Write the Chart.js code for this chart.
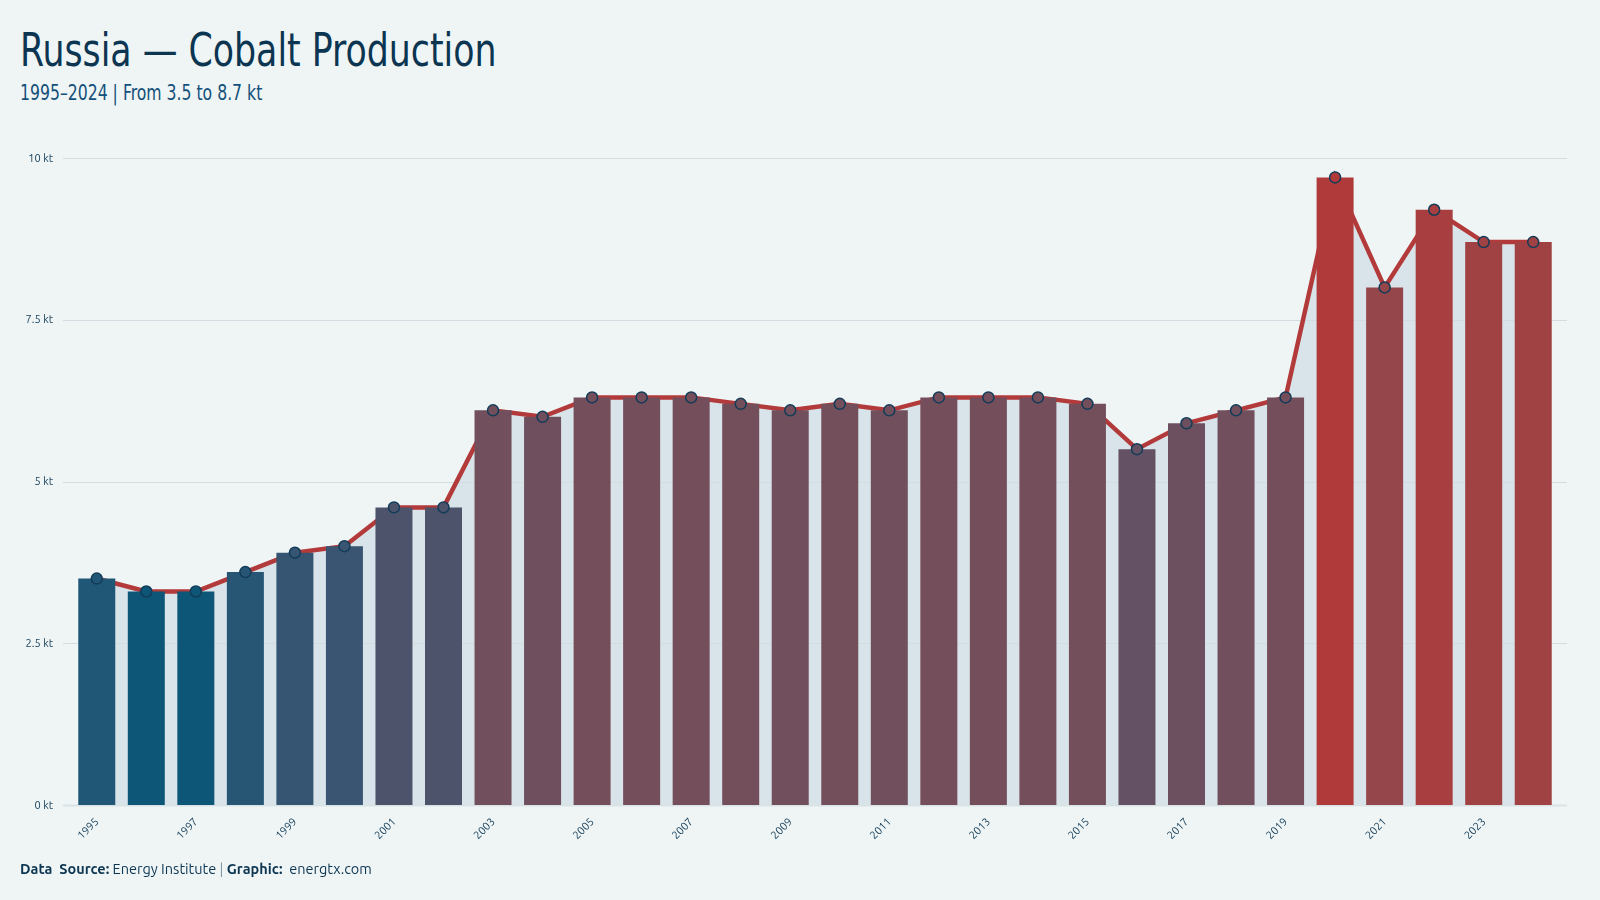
<!DOCTYPE html>
<html>
<head>
<meta charset="utf-8">
<script src="https://cdn.jsdelivr.net/npm/chart.js@4.4.0/dist/chart.umd.min.js"></script>
<style>
  html, body { margin:0; padding:0; background:#eff5f5; }
  body { width:1600px; height:900px; position:relative; overflow:hidden; font-family:'Ubuntu','Noto Sans',sans-serif; }
  #title { position:absolute; left:20px; top:27px; margin:0; font-family:'Ubuntu Condensed','DejaVu Sans Condensed',sans-serif; font-stretch:condensed; font-weight:400; font-size:46px; line-height:1; color:#0c3552; white-space:nowrap; transform:scaleX(0.84); transform-origin:left top; }
  #subtitle { position:absolute; left:20px; top:83px; font-family:'Ubuntu Condensed','DejaVu Sans Condensed',sans-serif; font-stretch:condensed; font-size:21px; line-height:1; color:#14507a; white-space:nowrap; transform:scaleX(0.83); transform-origin:left top; }
  #foot { position:absolute; left:20px; top:860px; font-size:14.5px; color:#0c3552; white-space:pre; }
  #foot .sep { color:#7f95a3; }
  #chart { position:absolute; left:0; top:0; }
</style>
</head>
<body>
<div id="title">Russia — Cobalt Production</div>
<div id="subtitle">1995–2024 | From 3.5 to 8.7 kt</div>
<canvas id="chart" width="1600" height="900"></canvas>
<div id="foot"><b>Data  Source:</b> Energy Institute <span class="sep">|</span> <b>Graphic:</b>  energtx.com</div>

<script>
// ---- data ----
const years = ['1995','1996','1997','1998','1999','2000','2001','2002','2003','2004',
               '2005','2006','2007','2008','2009','2010','2011','2012','2013','2014',
               '2015','2016','2017','2018','2019','2020','2021','2022','2023','2024'];
const production = [3.5, 3.3, 3.3, 3.6, 3.9, 4.0, 4.6, 4.6, 6.1, 6.0,
                    6.3, 6.3, 6.3, 6.2, 6.1, 6.2, 6.1, 6.3, 6.3, 6.3,
                    6.2, 5.5, 5.9, 6.1, 6.3, 9.7, 8.0, 9.2, 8.7, 8.7];
const yTicks = [0, 2.5, 5, 7.5, 10];

// ---- 색상: 값에 따라 파랑 -> 빨강 (Lab 보간) ----
const LOW = '#0e5678', HIGH = '#b03a3a';
const hex2rgb = h => [1,3,5].map(i => parseInt(h.slice(i,i+2),16));
const toLin = c => { c/=255; return c <= 0.04045 ? c/12.92 : Math.pow((c+0.055)/1.055, 2.4); };
const toSrgb = c => { c = c <= 0.0031308 ? 12.92*c : 1.055*Math.pow(c,1/2.4)-0.055; return Math.round(Math.min(1,Math.max(0,c))*255); };
function rgb2lab(rgb){
  const [r,g,b] = rgb.map(toLin);
  const x = (0.4124*r + 0.3576*g + 0.1805*b)/0.95047;
  const y = (0.2126*r + 0.7152*g + 0.0722*b);
  const z = (0.0193*r + 0.1192*g + 0.9505*b)/1.08883;
  const f = t => t > 0.008856 ? Math.cbrt(t) : 7.787*t + 16/116;
  const fx=f(x), fy=f(y), fz=f(z);
  return [116*fy-16, 500*(fx-fy), 200*(fy-fz)];
}
function lab2rgb([L,a,b]){
  const fy=(L+16)/116, fx=fy+a/500, fz=fy-b/200;
  const fi = t => t*t*t > 0.008856 ? t*t*t : (t-16/116)/7.787;
  const x=fi(fx)*0.95047, y=fi(fy), z=fi(fz)*1.08883;
  const r= 3.2406*x -1.5372*y -0.4986*z;
  const g=-0.9689*x +1.8758*y +0.0415*z;
  const bb=0.0557*x -0.2040*y +1.0570*z;
  return `rgb(${toSrgb(r)},${toSrgb(g)},${toSrgb(bb)})`;
}
const labLo = rgb2lab(hex2rgb(LOW)), labHi = rgb2lab(hex2rgb(HIGH));
const vmin = Math.min(...production), vmax = Math.max(...production);
const colorFor = v => {
  const t = (v - vmin)/(vmax - vmin);
  return lab2rgb(labLo.map((c,i) => c + (labHi[i]-c)*t));
};
const barColors = production.map(colorFor);

// ---- 격자선 (채움 영역 위, 막대 아래) ----
const gridPlugin = {
  id: 'gridBehind',
  beforeDatasetDraw(chart, args){
    if (args.index !== 0) return;
    const {ctx, chartArea:a, scales:{y}} = chart;
    ctx.save();
    yTicks.forEach(v => {
      const py = Math.round(y.getPixelForValue(v)) + 0.5;
      ctx.strokeStyle = v === 0 ? '#d9e3e6' : '#d3dde1';
      ctx.lineWidth = v === 0 ? 2 : 1;
      ctx.beginPath(); ctx.moveTo(a.left - 9, py); ctx.lineTo(a.right + 9, py); ctx.stroke();
    });
    ctx.restore();
  }
};

const tickFont = { family:"'Ubuntu','Noto Sans',sans-serif", size:11 };

new Chart(document.getElementById('chart'), {
  type: 'bar',
  data: {
    labels: years,
    datasets: [
      { type:'line', data:production, order:3, borderColor:'#b33a3a', borderWidth:4.5,
        fill:'origin', backgroundColor:'#d8e4e9', pointRadius:0, tension:0 },
      { type:'bar', data:production, order:2, backgroundColor:barColors,
        barPercentage:0.747, categoryPercentage:1 },
      { type:'line', data:production, order:1, showLine:false, pointRadius:5.5,
        pointBorderWidth:1.5, pointBorderColor:'#123c58', pointBackgroundColor:barColors }
    ]
  },
  options: {
    responsive:false,
    animation:false,
    layout:{ padding:{ left:0, top:158, right:42, bottom:45 } },
    plugins:{ legend:{display:false}, tooltip:{enabled:false} },
    scales:{
      x:{
        grid:{ display:false, drawTicks:false }, border:{display:false},
        ticks:{ color:'#123c58', font:tickFont, autoSkip:false, maxRotation:45, minRotation:45, padding:10,
                callback:(v,i) => i % 2 === 0 ? years[i] : '' },
        afterFit: s => { s.height = 50; }
      },
      y:{
        min:0, max:10,
        grid:{ display:false, drawTicks:false }, border:{display:false},
        afterBuildTicks: s => { s.ticks = yTicks.map(v => ({value:v})); },
        ticks:{ color:'#123c58', font:tickFont, padding:19, callback:v => v + ' kt' },
        afterFit: s => { s.width = 72; }
      }
    }
  },
  plugins:[gridPlugin]
});
</script>
</body>
</html>
